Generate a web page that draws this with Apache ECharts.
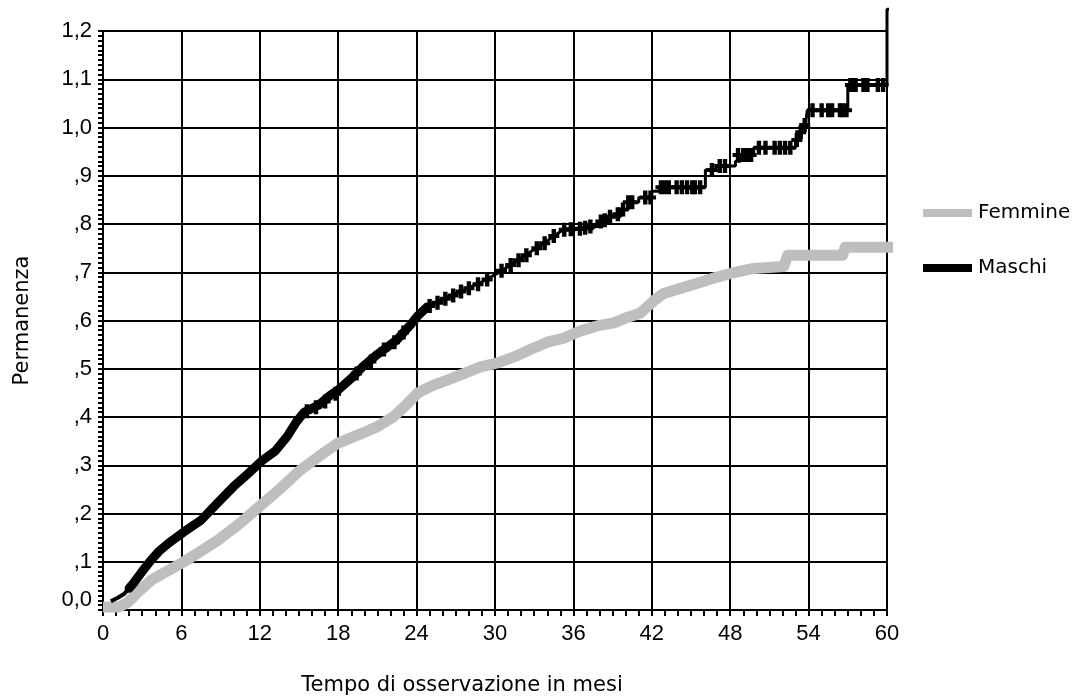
<!DOCTYPE html>
<html>
<head>
<meta charset="utf-8">
<title>Permanenza</title>
<script src="https://cdn.jsdelivr.net/npm/echarts@6/dist/echarts.min.js"></script>
<style>
  html, body { margin: 0; padding: 0; background: #fff; }
  #chart { width: 1075px; height: 698px; }
</style>
</head>
<body>
<div id="chart"></div>
<script>
// asse x: mesi, asse y: permanenza
var xTickLabels = ['0', '6', '12', '18', '24', '30', '36', '42', '48', '54', '60']
var yTickLabels = ['0,0', ',1', ',2', ',3', ',4', ',5', ',6', ',7', ',8', ',9', '1,0', '1,1', '1,2']

// Femmine (curva grigia)
var femmineT = [0.0, 1.2, 1.9, 2.8, 3.7, 5.0, 6.2, 7.5, 8.8, 10.5, 12.2, 13.5, 15.1, 16.5, 18.0, 19.9, 21.0, 22.2, 23.2, 24.1,
  25.2, 26.4, 27.6, 28.9, 30.2, 31.5, 32.7, 34.0, 35.2, 36.5, 38.0, 39.1, 40.0, 41.1, 42.2, 42.9, 44.0, 45.5, 47.0, 48.1,
  49.8, 52.1, 52.4, 56.6, 56.8, 60.8]
var femmineV = [0.006, 0.006, 0.016, 0.04, 0.062, 0.082, 0.10, 0.122, 0.145, 0.18, 0.22, 0.25, 0.29, 0.318, 0.346, 0.367, 0.38, 0.40, 0.425, 0.45,
  0.465, 0.477, 0.49, 0.504, 0.512, 0.525, 0.54, 0.555, 0.563, 0.578, 0.59, 0.595, 0.605, 0.615, 0.642, 0.656, 0.665, 0.677, 0.69, 0.698,
  0.708, 0.712, 0.735, 0.735, 0.752, 0.752]

// Maschi, primi mesi (tratto sottile)
var maschiStartT = [0.6, 1.1, 1.6, 2.0]
var maschiStartV = [0.018, 0.025, 0.033, 0.045]

// Maschi, tratto fitto
var maschiT = [2.0, 2.4, 3.0, 3.7, 4.3, 5.0, 6.2, 7.5, 8.7, 10.0, 11.0, 12.2, 13.2, 14.1, 14.8, 15.4, 16.5, 17.4,
  18.0, 19.0, 19.9, 21.0, 22.5, 23.5, 24.1, 24.8]
var maschiV = [0.045, 0.058, 0.08, 0.104, 0.122, 0.138, 0.162, 0.186, 0.22, 0.256, 0.28, 0.31, 0.33, 0.36, 0.39, 0.41, 0.425, 0.445,
  0.456, 0.48, 0.505, 0.53, 0.56, 0.59, 0.61, 0.628]

// Maschi, tratto centrale
var maschiMidT = [24.8, 26.0, 27.6, 29.0, 30.2, 31.5, 32.7, 34.0, 35.2, 36.5]
var maschiMidV = [0.628, 0.645, 0.663, 0.68, 0.698, 0.72, 0.742, 0.765, 0.788, 0.79]

// Maschi, gradini finali
var maschiStepT = [36.5, 37.5, 38.2, 38.8, 39.6, 40.2, 41.0, 42.0, 42.6, 46.1, 47.2, 48.4, 48.8, 49.8, 53.0, 53.2, 53.6, 53.8, 53.9, 57.0, 60.0, 60.3]
var maschiStepV = [0.79, 0.795, 0.805, 0.815, 0.83, 0.845, 0.855, 0.868, 0.876, 0.912, 0.92, 0.93, 0.943, 0.958, 0.974, 0.99, 1.005, 1.015, 1.036, 1.088, 1.245, 1.245]

// Maschi, casi censurati (+)
var maschiCensT = [15.6, 16.3, 17.0, 17.8, 19.4, 20.5, 21.5, 22.3, 23.0, 25.0, 25.6, 26.2, 26.8, 27.4, 28.0, 28.7, 29.4, 30.5, 31.2, 31.8, 32.4, 33.2, 33.8, 34.5, 35.3, 35.8,
  36.5, 36.9, 37.3, 38.1, 38.4, 38.8, 39.4, 39.8, 40.2, 40.5, 41.5, 41.9,
  42.7, 43.0, 43.3, 43.9, 44.3, 44.7, 45.1, 45.3, 45.7, 46.6, 47.2, 47.6, 48.6, 49.0, 49.3, 49.6,
  50.2, 50.7, 51.4, 51.8, 52.2, 52.6, 53.1, 53.4, 53.7,
  54.3, 55.0, 55.5, 55.8, 56.4, 56.6, 56.9, 57.2, 57.4, 57.6, 58.2, 58.5, 59.3, 59.7]
var maschiCensV = [0.412, 0.42, 0.432, 0.448, 0.49, 0.515, 0.54, 0.555, 0.575, 0.63, 0.637, 0.645, 0.652, 0.66, 0.667, 0.675, 0.685, 0.703, 0.715, 0.725, 0.735, 0.75, 0.76, 0.775, 0.788, 0.789,
  0.79, 0.792, 0.795, 0.805, 0.808, 0.815, 0.82, 0.83, 0.845, 0.845, 0.855, 0.855,
  0.876, 0.876, 0.876, 0.876, 0.876, 0.876, 0.876, 0.876, 0.876, 0.912, 0.92, 0.92, 0.943, 0.943, 0.943, 0.943,
  0.958, 0.958, 0.958, 0.958, 0.958, 0.958, 0.974, 0.99, 1.005,
  1.036, 1.036, 1.036, 1.036, 1.036, 1.036, 1.036, 1.088, 1.088, 1.088, 1.088, 1.088, 1.088, 1.088]

function pairs(xs, ys) {
  return xs.map(function(x, i) { return [x, ys[i]] })
}

var GREY = '#bebebe'
var BLACK = '#000'
var plus = 'path://M3,0h4v14h-4zM0,5h10v4h-10z'

var chart = echarts.init(document.getElementById('chart'), null, { renderer: 'canvas' })
var option = {
  animation: false,
  backgroundColor: '#fff',
  grid: {
    left: 103,
    right: 188,
    top: 31,
    bottom: 88,
    outerBoundsMode: 'none',
    containLabel: false,
    show: true,
    borderColor: BLACK,
    borderWidth: 2
  },
  legend: {
    orient: 'vertical',
    left: 918,
    top: 196,
    itemWidth: 49,
    itemHeight: 8,
    itemGap: 31,
    selectedMode: false,
    textStyle: {
      fontFamily: 'DejaVu Sans',
      fontSize: 20,
      lineHeight: 24,
      color: BLACK,
      padding: [0, 0, 0, 1]
    },
    data: [
      { name: 'Femmine', icon: 'rect', itemStyle: { color: GREY } },
      { name: 'Maschi', icon: 'rect', itemStyle: { color: BLACK } }
    ]
  },
  xAxis: {
    type: 'value',
    min: 0,
    max: 60,
    interval: 6,
    axisLine: { lineStyle: { color: BLACK, width: 2 } },
    axisTick: { length: 6, lineStyle: { color: BLACK, width: 2 } },
    minorTick: { show: true, splitNumber: 6, length: 6, lineStyle: { color: BLACK, width: 2 } },
    splitLine: { show: true, lineStyle: { color: BLACK, width: 2 } },
    axisLabel: {
      margin: 13,
      color: BLACK,
      fontFamily: 'Liberation Sans',
      fontSize: 22,
      formatter: function(v) { return xTickLabels[Math.round(v / 6)] }
    }
  },
  yAxis: {
    type: 'value',
    min: 0,
    max: 1.2,
    interval: 0.1,
    name: 'Permanenza',
    nameLocation: 'middle',
    nameRotate: 90,
    nameGap: 70,
    nameTextStyle: { fontFamily: 'DejaVu Sans', fontSize: 21, color: BLACK },
    axisLine: { lineStyle: { color: BLACK, width: 2 } },
    axisTick: { length: 5, lineStyle: { color: BLACK, width: 2 } },
    minorTick: { show: true, splitNumber: 10, length: 5, lineStyle: { color: BLACK, width: 2 } },
    splitLine: { show: true, lineStyle: { color: BLACK, width: 2 } },
    axisLabel: {
      margin: 11,
      color: BLACK,
      fontFamily: 'Liberation Sans',
      fontSize: 22,
      formatter: function(v) {
        var i = Math.round(v * 10)
        return i === 0 ? '{z|' + yTickLabels[0] + '}' : yTickLabels[i]
      },
      rich: {
        z: { fontFamily: 'Liberation Sans', fontSize: 22, color: BLACK, padding: [0, 0, 20, 0] }
      }
    }
  },
  graphic: [
    {
      type: 'text',
      x: 462,
      y: 686,
      style: {
        text: 'Tempo di osservazione in mesi',
        align: 'center',
        verticalAlign: 'middle',
        fontFamily: 'DejaVu Sans',
        fontSize: 21,
        fill: BLACK
      }
    }
  ],
  series: [
    {
      name: 'Femmine',
      type: 'line',
      data: pairs(femmineT, femmineV),
      showSymbol: false,
      clip: false,
      itemStyle: { color: GREY },
      lineStyle: { color: GREY, width: 11, join: 'round' },
      z: 2
    },
    {
      name: 'Maschi',
      type: 'line',
      data: pairs(maschiStartT, maschiStartV),
      showSymbol: false,
      clip: false,
      itemStyle: { color: BLACK },
      lineStyle: { color: BLACK, width: 4 },
      z: 3
    },
    {
      name: 'Maschi',
      type: 'line',
      data: pairs(maschiT, maschiV),
      showSymbol: false,
      clip: false,
      itemStyle: { color: BLACK },
      lineStyle: { color: BLACK, width: 9, join: 'round', cap: 'round' },
      z: 3
    },
    {
      name: 'Maschi',
      type: 'line',
      data: pairs(maschiMidT, maschiMidV),
      showSymbol: false,
      clip: false,
      itemStyle: { color: BLACK },
      lineStyle: { color: BLACK, width: 3 },
      z: 3
    },
    {
      name: 'Maschi',
      type: 'line',
      step: 'end',
      data: pairs(maschiStepT, maschiStepV),
      showSymbol: false,
      clip: false,
      itemStyle: { color: BLACK },
      lineStyle: { color: BLACK, width: 3 },
      z: 3
    },
    {
      name: 'Maschi',
      type: 'scatter',
      data: pairs(maschiCensT, maschiCensV),
      symbol: plus,
      symbolSize: [11, 14],
      clip: false,
      itemStyle: { color: BLACK, opacity: 1 },
      z: 4
    }
  ]
}
chart.setOption(option)
</script>
</body>
</html>
